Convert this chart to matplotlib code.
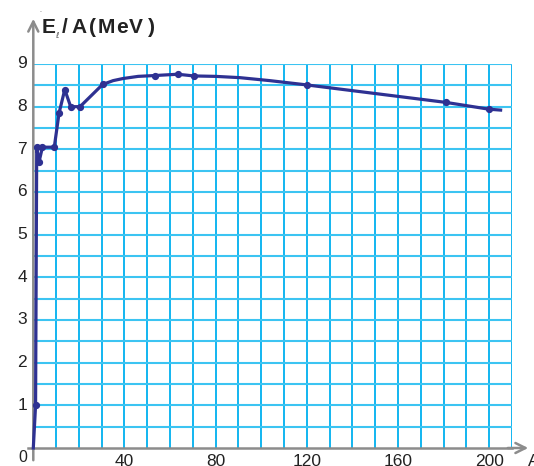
import matplotlib
matplotlib.use("Agg")
import matplotlib.pyplot as plt
import numpy as np

# ---- data ----
curve_x = [0, 1, 1.5, 2.5, 4, 9.2, 11.3, 13.8, 16.4, 20.5, 30.4, 35, 39.4, 46, 53.4, 63.3, 70.5,
           80, 90.6, 103.8, 119.9, 181, 200, 205]
curve_y = [0, 1.0, 7.05, 6.7, 7.05, 7.05, 7.85, 8.4, 8.0, 8.0, 8.52, 8.61, 8.66, 8.71, 8.73, 8.76, 8.72,
           8.71, 8.68, 8.61, 8.51, 8.10, 7.94, 7.92]
marker_x = [1, 1.5, 2.5, 4, 9.2, 11.3, 13.8, 16.4, 20.5, 30.4, 53.4, 63.3, 70.5, 119.9, 181, 200]
marker_y = [1.0, 7.05, 6.7, 7.05, 7.05, 7.85, 8.4, 8.0, 8.0, 8.52, 8.73, 8.76, 8.72, 8.51, 8.10, 7.94]
y_ticks = [1, 2, 3, 4, 5, 6, 7, 8, 9]
x_ticks = [40, 80, 120, 160, 200]

W, H = 534, 466
fig = plt.figure(figsize=(W / 100, H / 100), dpi=100)
plt.rcParams['font.family'] = ['Liberation Sans', 'DejaVu Sans']

def fx(px):
    return px / W

def fy(py):
    return 1 - py / H

x0, x1 = 33.3, 512
y0, y1 = 448, 64
ax = fig.add_axes([fx(x0), fy(y0), (x1 - x0) / W, (y0 - y1) / H])
ax.set_xlim(0, 210)
ax.set_ylim(0, 9)
ax.set_axis_off()

vcol = '#12b6f0'
hcol = '#3cc4f2'
for gx in range(10, 211, 10):
    ax.plot([gx, gx], [0, 9], color=vcol, lw=1.4, zorder=1, solid_capstyle='butt')
for gy in np.arange(0.5, 9.01, 0.5):
    ax.plot([0, 210], [gy, gy], color=hcol, lw=1.5, zorder=1, solid_capstyle='butt')

# axes (gray with arrows)
ax.plot([-2.3, 210], [0, 0], color='#8c8c8c', lw=1.8, zorder=2, clip_on=False)
ax.annotate('', xy=(fx(531), fy(448)), xytext=(fx(505), fy(448)), xycoords='figure fraction',
            arrowprops=dict(arrowstyle='->', color='#8c8c8c', lw=1.8, mutation_scale=18))
ax.annotate('', xy=(fx(33.3), fy(16)), xytext=(fx(33.3), fy(463)), xycoords='figure fraction',
            arrowprops=dict(arrowstyle='->', color='#8c8c8c', lw=1.8, mutation_scale=18))

lc = '#2e3192'
ax.plot(curve_x, curve_y, color=lc, lw=2.3, zorder=3, clip_on=False, solid_joinstyle='round')
ax.plot(marker_x, marker_y, 'o', color=lc, ms=4.2, zorder=4, clip_on=False)

# tick labels
for t in y_ticks:
    ax.text(-2.7, t, str(t), ha='right', va='center', fontsize=12.5, color='#222222')
fig.text(fx(27), fy(457), '0', ha='right', va='center', fontsize=11.5, color='#222222')
for t in x_ticks:
    ax.text(t, -0.14, str(t), ha='center', va='top', fontsize=12.5, color='#222222')
fig.text(fx(528), fy(461), 'A', ha='left', va='center', fontsize=12.5, color='#222222')

# axis title with letter spacing
title_chars = [('E', 41.7), ('/', 62), ('A', 71.5), ('(', 89.5), ('M', 97.5), ('e', 116.5), ('V', 128.5), (')', 148)]
for ch, px in title_chars:
    fig.text(fx(px), fy(33), ch, ha='left', va='baseline', fontsize=15, fontweight='bold',
             color='#222222')
fig.text(fx(55.5), fy(38), 'ℓ', ha='left', va='baseline', fontsize=6, style='italic',
         color='#555555', family=['DejaVu Sans'])
fig.text(fx(40), fy(10), '.', ha='center', va='center', fontsize=5, color='#555555')

fig.savefig('out.png', dpi=100)
